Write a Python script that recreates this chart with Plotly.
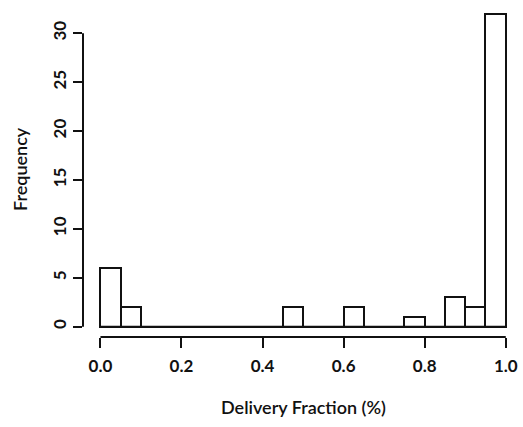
import plotly.graph_objects as go

# Histogram of delivery fractions: 20 bins of width 0.05 over [0, 1]
bin_starts = [0.00, 0.05, 0.10, 0.15, 0.20, 0.25, 0.30, 0.35, 0.40, 0.45,
              0.50, 0.55, 0.60, 0.65, 0.70, 0.75, 0.80, 0.85, 0.90, 0.95]
bin_width = 0.05
counts = [6, 2, 0, 0, 0, 0, 0, 0, 0, 2,
          0, 0, 2, 0, 0, 1, 0, 3, 2, 32]

x_ticks = [0.0, 0.2, 0.4, 0.6, 0.8, 1.0]
x_tick_text = ["0.0", "0.2", "0.4", "0.6", "0.8", "1.0"]
y_ticks = [0, 5, 10, 15, 20, 25, 30]

FONT = "Lato"
INK = "#111111"

centers = [s + bin_width / 2 for s in bin_starts]

fig = go.Figure()
fig.add_trace(go.Bar(
    x=centers,
    y=counts,
    width=bin_width,
    marker=dict(color="white", line=dict(color=INK, width=2)),
    hoverinfo="x+y",
))

# Baseline under the empty bins
fig.add_shape(type="line", xref="x", yref="y",
              x0=bin_starts[0], x1=bin_starts[-1] + bin_width, y0=0, y1=0,
              line=dict(color=INK, width=2))
# Detached axis lines spanning only the tick range
fig.add_shape(type="line", xref="x", yref="paper",
              x0=x_ticks[0], x1=x_ticks[-1], y0=0, y1=0,
              line=dict(color=INK, width=2))
fig.add_shape(type="line", xref="paper", yref="y",
              x0=0, x1=0, y0=y_ticks[0], y1=y_ticks[-1],
              line=dict(color=INK, width=2))

fig.update_xaxes(
    range=[-0.043, 1.0401],
    tickmode="array", tickvals=x_ticks, ticktext=x_tick_text,
    ticks="outside", ticklen=10, tickwidth=2, tickcolor=INK,
    ticklabelstandoff=4,
    showline=False, showgrid=False, zeroline=False,
    tickfont=dict(family=FONT, size=17, color=INK, weight=700),
)
fig.update_yaxes(
    range=[-1.053, 33.30],
    tickmode="array", tickvals=y_ticks,
    ticks="outside", ticklen=9, tickwidth=2, tickcolor=INK,
    tickangle=-90, ticklabelstandoff=0,
    showline=False, showgrid=False, zeroline=False,
    tickfont=dict(family=FONT, size=17, color=INK, weight=700),
)

fig.add_annotation(text="Delivery Fraction (%)", xref="x", yref="paper",
                   x=0.5, y=-0.208, showarrow=False,
                   xanchor="center", yanchor="middle",
                   font=dict(family=FONT, size=18, color=INK, weight=600))
fig.add_annotation(text="Frequency", xref="paper", yref="paper",
                   x=-0.1435, y=0.5, showarrow=False, textangle=-90,
                   xanchor="center", yanchor="middle",
                   font=dict(family=FONT, size=18, color=INK, weight=600))

fig.update_layout(
    width=523, height=427,
    margin=dict(l=83, r=1, t=1, b=90),
    paper_bgcolor="white", plot_bgcolor="white",
    showlegend=False, bargap=0,
)

fig.write_html("out.html")
